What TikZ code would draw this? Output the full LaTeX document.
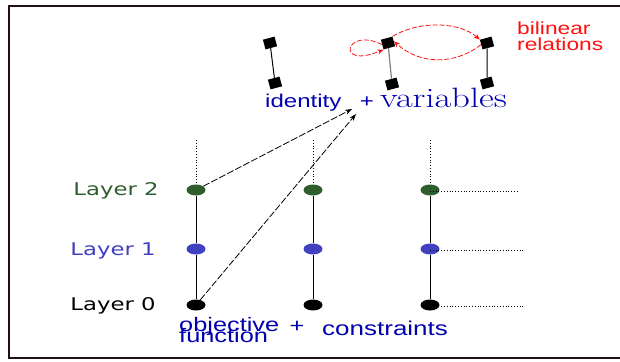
\documentclass[tikz,border=0pt]{standalone}
\usepackage{fontspec}
\newfontfamily\dejavu{DejaVu Sans}
\newfontfamily\helv{Liberation Sans}
\usetikzlibrary{arrows.meta,shapes.geometric}
\newcommand\hs[1]{\scalebox{1.3}[1]{#1}}
\definecolor{lgreen}{HTML}{2E5E2E}
\definecolor{lblue}{HTML}{4040C0}
\definecolor{tblue}{HTML}{0000B0}
\definecolor{framecol}{HTML}{201010}
\definecolor{lred}{HTML}{FF1010}
\begin{document}
\begin{tikzpicture}[x=1pt,y=-1pt,
 dot/.style={ellipse, minimum width=19pt, minimum height=11pt, inner sep=0, draw=none, fill=#1},
 sq/.style={rectangle, fill=black, minimum width=12pt, minimum height=10pt, inner sep=0, rotate=15},
 lbl/.style={inner sep=0},
 layerfont/.style={font=\dejavu\fontsize{17.5}{20}\selectfont},
 sansfont/.style={font=\helv\fontsize{#1}{#1}\selectfont},
 blkarrow/.style={dash pattern=on 7pt off 2pt, -{Stealth[length=7pt,width=5pt]}, line width=0.8pt},
 redarrow/.style={lred, dash pattern=on 5pt off 2pt, -{Stealth[length=6pt,width=5pt]}, line width=0.8pt},
 vline/.style={line width=1pt},
 dotline/.style={dotted, line width=0.8pt}]
\useasboundingbox (0,0) rectangle (620,361);
\draw[line width=2.5pt, framecol] (620,6) -- (9,6) -- (9,358) -- (620,358);

% top squares
\node[sq] (s1t) at (270,43) {};
\node[sq] (s1b) at (275,83) {};
\node[sq] (s2t) at (388,43) {};
\node[sq] (s2b) at (392,84) {};
\node[sq] (s3t) at (487,43) {};
\node[sq] (s3b) at (487,83) {};
\draw[line width=1pt] (s1t) -- (s1b);
\draw[line width=1.2pt, gray] (s2t) -- (s2b);
\draw[line width=1pt] (s3t) -- (s3b);

% red bilinear relations
\draw[redarrow] (s2t.north east) .. controls (420,20) and (460,22) .. (s3t.north west);
\draw[redarrow] (s3t.west) .. controls (455,65) and (420,65) .. (s2t.east);
\draw[redarrow] (s2t.west) .. controls (345,26) and (335,70) .. (s2t.south west);

\node[lbl, anchor=base west, text=lred, sansfont=17.5] (bil) at (517,35) {\hs{bilinear}};
\node[lbl, anchor=base west, text=lred, sansfont=17.5] (rel) at (517,51) {\hs{relations}};

% identity + variables
\node[lbl, anchor=base west, text=tblue, sansfont=18.5] (id) at (265,107) {\hs{identity}};
\node[lbl, anchor=base, text=tblue, sansfont=18.5] (pl1) at (367,107) {\hs{+}};
\node[lbl, anchor=base west, text=tblue, font=\fontsize{28}{32}\selectfont] (var) at (380,107) {\hs{variables}};

% layers
\foreach \c/\x in {a/196,b/313,c/430}{
  \coordinate (t\c) at (\x,140);
  \node[dot=lgreen] (\c2) at (\x,190) {};
  \node[dot=lblue] (\c1) at (\x,249) {};
  \node[dot=black] (\c0) at (\x,305) {};
  \draw[vline] (\c0) -- (\c1) -- (\c2);
  \draw[dotline] (t\c) -- (\c2);
}
\coordinate (h2) at (517,191);
\coordinate (h1) at (523,250);
\coordinate (h0) at (523,306);
\draw[dotline] (c2.center) ++(0,1) -- (h2);
\draw[dotline] (c1.center) ++(0,1) -- (h1);
\draw[dotline] (c0.center) ++(0,1) -- (h0);

\node[lbl, text=lgreen, layerfont] (l2) at (116,191) {\hs{Layer 2}};
\node[lbl, text=lblue, layerfont] (l1) at (113,251) {\hs{Layer 1}};
\node[lbl, text=black, layerfont] (l0) at (113,306) {\hs{Layer 0}};

% arrows
\coordinate (t1) at (352,109);
\coordinate (t2) at (356,114);
\draw[blkarrow] (a2) -- (t1);
\draw[blkarrow] (a0) -- (t2);

% bottom text
\node[lbl, anchor=base west, text=tblue, sansfont=19.5] (obj) at (179,331) {\hs{objective}};
\node[lbl, anchor=base west, text=tblue, sansfont=19.5] (fun) at (179,342) {\hs{function}};
\node[lbl, text=tblue, sansfont=19.5] (pl2) at (297,327) {\hs{+}};
\node[lbl, anchor=base west, text=tblue, sansfont=20] (con) at (322,335) {\hs{constraints}};
\end{tikzpicture}
\end{document}
